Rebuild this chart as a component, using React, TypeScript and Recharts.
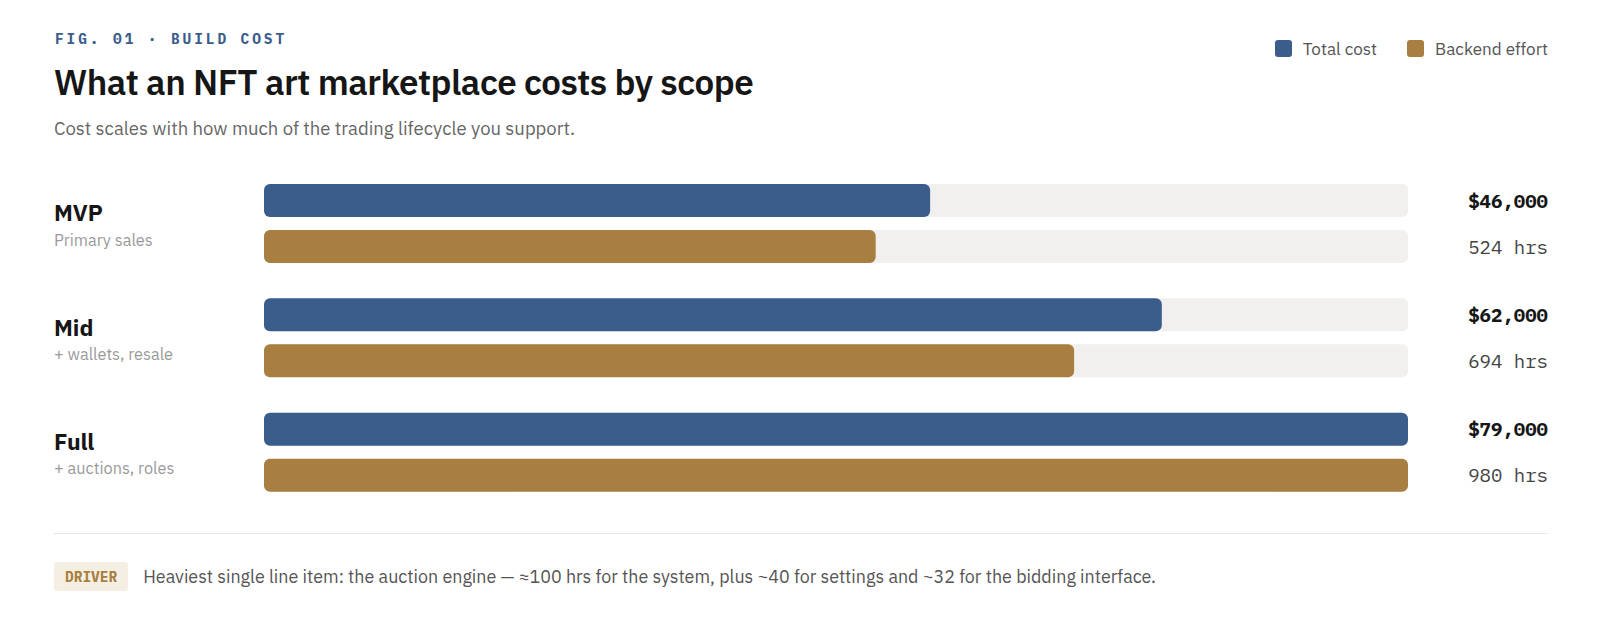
import { Bar, BarChart, LabelList, XAxis, YAxis } from 'recharts'

const tiers = ['MVP', 'Mid', 'Full']
const tierNotes = ['Primary sales', '+ wallets, resale', '+ auctions, roles']
const totalCost = [46000, 62000, 79000]
const backendHours = [524, 694, 980]

const rows = tiers.map((tier, i) => ({
  tier,
  note: tierNotes[i],
  cost: totalCost[i],
  hours: backendHours[i],
}))

const BLUE = '#3b5d8c'
const GOLD = '#a87f40'
const TRACK = '#f1f0ee'
const SANS = '"IBM Plex Sans", Inter, "Noto Sans", sans-serif'
const MONO = '"IBM Plex Mono", "DejaVu Sans Mono", monospace'

function TierTick({ y, payload }: any) {
  const i = tiers.indexOf(payload.value)
  return (
    <g>
      <text x={54} y={y - 11} dominantBaseline="central" fontFamily={SANS} fontSize={23} fontWeight={700} fill="#161616">
        {payload.value}
      </text>
      <text x={54} y={y + 16} dominantBaseline="central" fontFamily={SANS} fontSize={16.3} fill="#9a9a9a">
        {tierNotes[i]}
      </text>
    </g>
  )
}

function valueLabel(bold: boolean, fmt: (v: number) => string) {
  return (props: any) => {
    const { y, height, value } = props
    return (
      <text
        x={1548}
        y={y + height / 2}
        textAnchor="end"
        dominantBaseline="central"
        fontFamily={MONO}
        fontSize={19}
        fontWeight={bold ? 700 : 400}
        fill={bold ? '#161616' : '#444'}
      >
        {fmt(value)}
      </text>
    )
  }
}

export default function App() {
  return (
    <div style={{ position: 'absolute', top: 0, left: 0, width: 1600, height: 626, background: '#fff', fontFamily: SANS }}>
      <div style={{ position: 'absolute', left: 55, top: 29, fontFamily: MONO, fontSize: 14.5, fontWeight: 700, letterSpacing: 2.9, color: BLUE }}>
        FIG. 01 · BUILD COST
      </div>
      <div style={{ position: 'absolute', left: 54, top: 59, fontSize: 35, fontWeight: 600, color: '#161616', letterSpacing: -0.5 }}>
        What an NFT art marketplace costs by scope
      </div>
      <div style={{ position: 'absolute', left: 54, top: 116, fontSize: 18.5, color: '#666' }}>
        Cost scales with how much of the trading lifecycle you support.
      </div>
      <div style={{ position: 'absolute', right: 52, top: 37, display: 'flex', alignItems: 'center', fontSize: 17.1, color: '#555' }}>
        <span style={{ width: 17, height: 17, borderRadius: 3, background: BLUE, marginRight: 11 }} />
        <span style={{ marginRight: 30 }}>Total cost</span>
        <span style={{ width: 17, height: 17, borderRadius: 3, background: GOLD, marginRight: 11 }} />
        <span>Backend effort</span>
      </div>

      <div style={{ position: 'absolute', left: 0, top: 166 }}>
        <BarChart
          width={1600}
          height={343}
          data={rows}
          layout="vertical"
          margin={{ top: 0, right: 192, bottom: 0, left: 0 }}
          barSize={33}
          barGap={13}
        >
          <XAxis xAxisId="cost" type="number" domain={[0, 79000]} hide />
          <XAxis xAxisId="hours" type="number" domain={[0, 980]} hide />
          <YAxis type="category" dataKey="tier" width={264} axisLine={false} tickLine={false} tick={<TierTick />} />
          <Bar xAxisId="cost" dataKey="cost" fill={BLUE} radius={6} background={{ fill: TRACK, radius: 6 }} isAnimationActive={false}>
            <LabelList dataKey="cost" content={valueLabel(true, (v) => '$' + v.toLocaleString('en-US'))} />
          </Bar>
          <Bar xAxisId="hours" dataKey="hours" fill={GOLD} radius={6} background={{ fill: TRACK, radius: 6 }} isAnimationActive={false}>
            <LabelList dataKey="hours" content={valueLabel(false, (v) => v + ' hrs')} />
          </Bar>
        </BarChart>
      </div>

      <div style={{ position: 'absolute', left: 54, right: 52, top: 533, height: 1, background: '#e8e8e8' }} />
      <div style={{ position: 'absolute', left: 54, top: 562, display: 'flex', alignItems: 'center' }}>
        <span style={{ background: '#f5efe3', color: GOLD, fontFamily: MONO, fontWeight: 700, fontSize: 14.5, padding: '5px 11px', borderRadius: 3 }}>
          DRIVER
        </span>
        <span style={{ marginLeft: 15, fontSize: 17.9, color: '#555' }}>
          Heaviest single line item: the auction engine — ≈100 hrs for the system, plus ~40 for settings and ~32 for the bidding interface.
        </span>
      </div>
    </div>
  )
}
